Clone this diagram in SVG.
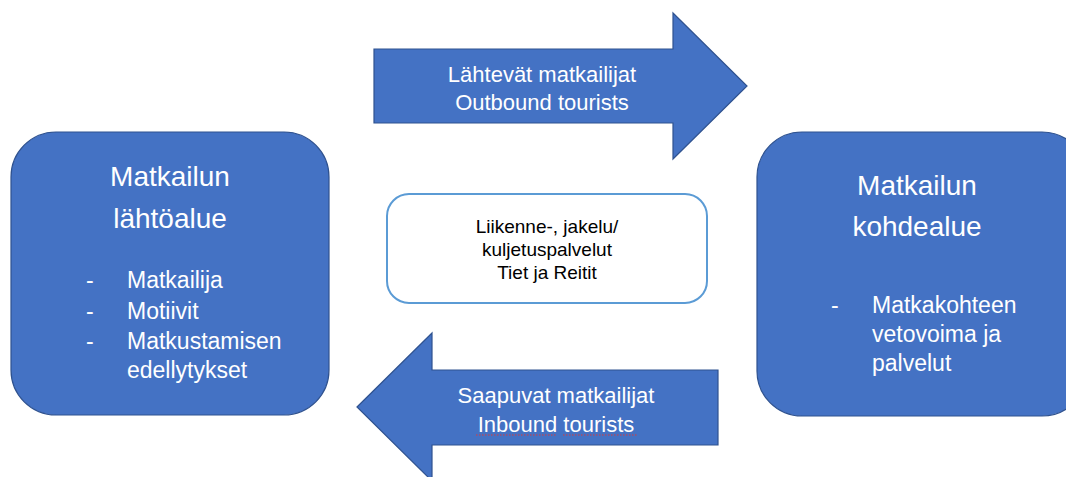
<svg xmlns="http://www.w3.org/2000/svg" width="1066" height="477" viewBox="0 0 1066 477">
<style>
.box{fill:#4472C4;stroke:#2F528F;stroke-width:1.2}
.arrow{fill:#4472C4;stroke:#2F528F;stroke-width:1.2}
.w{fill:#ffffff;font-family:"Liberation Sans",Arial,sans-serif}
.title{font-size:28px;text-anchor:middle}
.item{font-size:23px}
.at{font-size:22px;text-anchor:middle}
.mid{fill:#000000;font-family:"Liberation Sans",Arial,sans-serif;font-size:19px;text-anchor:middle}
</style>
<rect width="1066" height="477" fill="#ffffff"/>
<g id="connectors">
  <g id="outbound">
    <polygon class="arrow" points="374,49 673,49 673,13 747,86 673,159 673,123 374,123"/>
    <text class="w at" x="542" y="82">Lähtevät matkailijat</text>
    <text class="w at" x="542" y="110">Outbound tourists</text>
  </g>
  <g id="inbound">
    <polygon class="arrow" points="357,407 432,333 432,370 718,370 718,445 432,445 432,481"/>
    <text class="w at" x="556" y="403">Saapuvat matkailijat</text>
    <text class="w at" x="556" y="432">Inbound tourists</text>
    <line x1="476" y1="435" x2="556" y2="435" stroke="#d83a3a" stroke-width="1" stroke-dasharray="1.5 1.5"/>
    <line x1="563" y1="435" x2="637" y2="435" stroke="#d83a3a" stroke-width="1" stroke-dasharray="1.5 1.5"/>
  </g>
</g>
<g id="lahtoalue">
  <rect class="box" x="11" y="132" width="318" height="283" rx="45"/>
  <text class="w title" x="170" y="186">Matkailun</text>
  <text class="w title" x="170" y="228">lähtöalue</text>
  <text class="w item" x="86" y="288">-</text>
  <text class="w item" x="127" y="288">Matkailija</text>
  <text class="w item" x="86" y="319">-</text>
  <text class="w item" x="127" y="319">Motiivit</text>
  <text class="w item" x="86" y="349">-</text>
  <text class="w item" x="127" y="349">Matkustamisen</text>
  <text class="w item" x="127" y="378">edellytykset</text>
</g>
<g id="kohdealue">
  <rect class="box" x="757" y="132" width="330" height="284" rx="45"/>
  <text class="w title" x="917" y="195">Matkailun</text>
  <text class="w title" x="917" y="236">kohdealue</text>
  <text class="w item" x="831" y="313">-</text>
  <text class="w item" x="872" y="313">Matkakohteen</text>
  <text class="w item" x="872" y="342">vetovoima ja</text>
  <text class="w item" x="872" y="371">palvelut</text>
</g>
<g id="liikenne">
  <rect x="387" y="194" width="320" height="109" rx="22" fill="#ffffff" stroke="#5B9BD5" stroke-width="2"/>
  <text class="mid" x="547" y="233">Liikenne-, jakelu/</text>
  <text class="mid" x="547" y="256">kuljetuspalvelut</text>
  <text class="mid" x="547" y="279">Tiet ja Reitit</text>
</g>
</svg>
